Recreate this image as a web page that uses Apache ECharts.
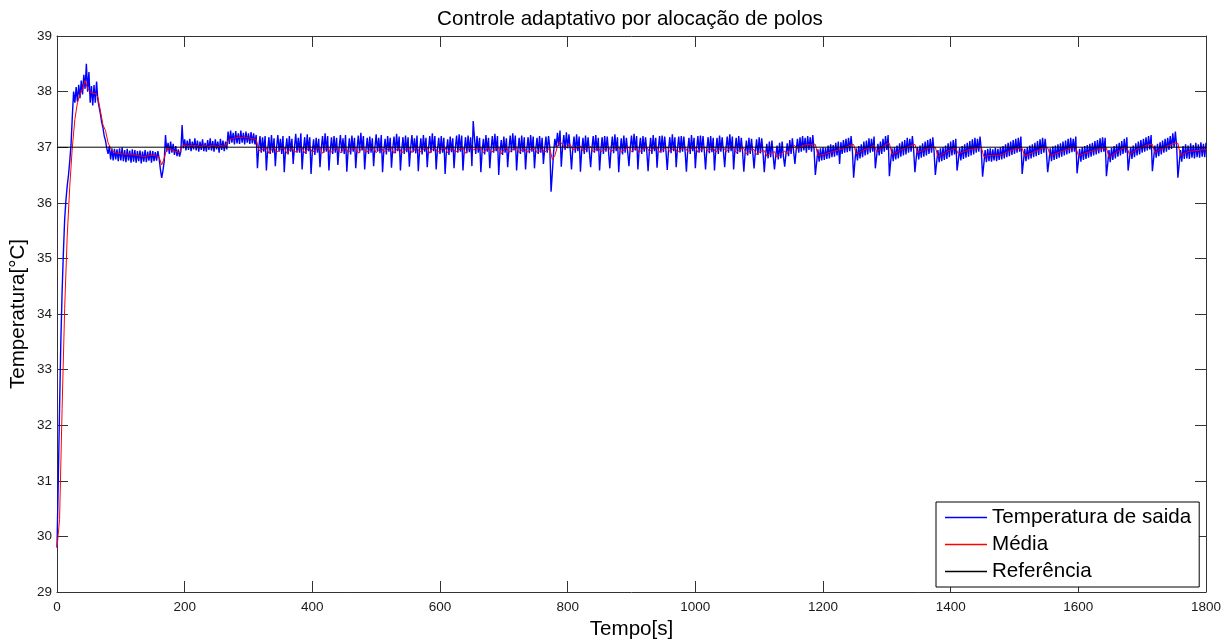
<!DOCTYPE html>
<html>
<head>
<meta charset="utf-8">
<title>Controle adaptativo por alocação de polos</title>
<script src="https://cdn.jsdelivr.net/npm/echarts@6/dist/echarts.min.js"></script>
<style>
  html, body { margin: 0; padding: 0; background: #ffffff; }
  #chart { width: 1229px; height: 640px; }
</style>
</head>
<body>
<div id="chart"></div>
<script>
// Eixos
const ticksTempo = [0, 200, 400, 600, 800, 1000, 1200, 1400, 1600, 1800];
const ticksTemperatura = [29, 30, 31, 32, 33, 34, 35, 36, 37, 38, 39];
const referencia = 37;

// Temperatura de saída, uma amostra a cada 2 s (0 a 1800 s)
const passoSaida = 2;
const temperaturaSaida = [
  // 0 s
  29.8, 31.0, 32.3, 33.5, 34.4, 35.1, 35.7, 36.05, 36.3, 36.5,
  // 20 s
  36.75, 37.05, 37.55, 38.0, 37.8, 38.08, 37.82, 38.12, 37.88, 38.2,
  // 40 s
  37.95, 38.3, 38.05, 38.5, 38.0, 38.35, 37.8, 38.1, 37.75, 38.12,
  // 60 s
  37.8, 38.18, 37.85, 37.72, 37.6, 37.45, 37.35, 37.2, 37.12, 36.98,
  // 80 s
  36.88, 37.02, 36.78, 36.98, 36.76, 36.97, 36.78, 36.96, 36.75, 36.98,
  // 100 s
  36.76, 37.0, 36.75, 36.95, 36.73, 36.97, 36.76, 36.94, 36.72, 36.96,
  // 120 s
  36.74, 36.95, 36.72, 36.93, 36.75, 36.94, 36.71, 36.92, 36.74, 36.95,
  // 140 s
  36.73, 36.92, 36.76, 36.94, 36.72, 36.93, 36.75, 36.91, 36.76, 36.93,
  // 160 s
  36.8, 36.6, 36.45, 36.58, 36.75, 37.22, 36.92, 37.08, 36.88, 37.1,
  // 180 s
  36.9, 37.06, 36.86, 37.02, 36.84, 36.96, 36.83, 36.92, 37.4, 36.98,
  // 200 s
  37.14, 36.94, 37.12, 36.95, 37.15, 36.93, 37.1, 36.96, 37.16, 36.94,
  // 220 s
  37.12, 36.92, 37.1, 36.95, 37.14, 36.93, 37.08, 36.92, 37.13, 36.95,
  // 240 s
  37.16, 36.94, 37.11, 36.92, 37.14, 36.96, 37.1, 36.9, 37.15, 36.95,
  // 260 s
  37.12, 36.93, 37.1, 36.96, 37.28, 37.06, 37.3, 37.08, 37.26, 37.05,
  // 280 s
  37.29, 37.07, 37.25, 37.06, 37.3, 37.08, 37.26, 37.05, 37.28, 37.08,
  // 300 s
  37.25, 37.06, 37.27, 37.07, 37.25, 37.05, 37.22,
  // 314 s: perturbações a cada ~14 s
  36.62, 36.98, 37.2, 36.9, 37.18, 36.92, 37.2,
  36.58, 36.95, 37.18, 36.88, 37.22, 36.9, 37.16,
  36.66, 37.0, 37.22, 36.92, 37.15, 36.88, 37.2,
  36.55, 36.94, 37.16, 36.87, 37.2, 36.92, 37.15,
  36.7, 37.0, 37.24, 36.9, 37.17, 36.9, 37.25,
  36.6, 36.95, 37.18, 36.88, 37.23, 36.93, 37.18,
  36.52, 36.92, 37.14, 36.86, 37.17, 36.9, 37.15,
  36.64, 36.98, 37.2, 36.9, 37.25, 36.92, 37.2,
  36.58, 36.94, 37.18, 36.88, 37.2, 36.9, 37.17,
  36.68, 37.0, 37.22, 36.9, 37.16, 36.88, 37.22,
  36.56, 36.93, 37.16, 36.87, 37.21, 36.92, 37.17,
  36.62, 36.97, 37.21, 36.9, 37.26, 36.94, 37.2,
  36.6, 36.95, 37.17, 36.88, 37.19, 36.9, 37.16,
  36.66, 36.99, 37.23, 36.92, 37.17, 36.89, 37.22,
  36.55, 36.94, 37.15, 36.87, 37.2, 36.92, 37.17,
  36.63, 36.98, 37.19, 36.89, 37.24, 36.93, 37.19,
  36.58, 36.95, 37.18, 36.88, 37.21, 36.91, 37.18,
  36.65, 36.99, 37.22, 36.91, 37.16, 36.89, 37.21,
  36.57, 36.94, 37.16, 36.87, 37.22, 36.92, 37.17,
  36.64, 36.98, 37.2, 36.9, 37.25, 36.93, 37.2,
  36.6, 36.96, 37.17, 36.88, 37.2, 36.9, 37.17,
  36.52, 36.92, 37.14, 36.86, 37.19, 36.91, 37.16,
  36.62, 36.98, 37.21, 36.9, 37.23, 36.92, 37.21,
  36.58, 36.95, 37.18, 36.89, 37.21, 36.91, 37.18,
  36.66, 37.47, 37.17, 36.88, 37.2, 36.9, 37.17,
  36.55, 36.93, 37.15, 36.87, 37.22, 36.92, 37.17,
  36.62, 36.97, 37.2, 36.9, 37.24, 36.93, 37.2,
  36.5, 36.92, 37.13, 36.86, 37.19, 36.9, 37.16,
  36.64, 36.98, 37.21, 36.91, 37.25, 36.94, 37.21,
  36.58, 36.95, 37.17, 36.88, 37.21, 36.91, 37.18,
  36.6, 36.96, 37.18, 36.89, 37.22, 36.92, 37.19,
  // 748 s
  36.62, 36.96, 37.17, 36.88, 37.2, 36.9, 37.17,
  36.7, 36.97, 37.19, 36.9, 37.2, 37.0,
  // 774 s: maior queda
  36.2, 36.55, 36.92, 37.15, 37.0, 37.26, 37.02, 37.3,
  36.65, 37.0, 37.22, 36.95, 37.27, 36.98, 37.23, 36.96,
  36.6, 36.97, 37.19, 36.9, 37.23, 36.93, 37.19,
  36.56, 36.94, 37.17, 36.88, 37.21, 36.91, 37.18, 36.92,
  36.64, 36.98, 37.2, 36.9, 37.22, 36.93, 37.17,
  36.58, 36.95, 37.18, 36.88, 37.2, 36.92, 37.19, 36.93,
  36.62, 36.97, 37.19, 36.89, 37.23, 36.93, 37.18,
  36.55, 36.93, 37.16, 36.87, 37.21, 36.9, 37.17, 36.92,
  36.66, 36.99, 37.21, 36.91, 37.24, 36.94, 37.2,
  36.6, 36.96, 37.17, 36.88, 37.2, 36.92, 37.18, 36.92,
  36.57, 36.94, 37.17, 36.88, 37.22, 36.93, 37.17,
  36.63, 36.98, 37.2, 36.9, 37.21, 36.91, 37.19, 36.93,
  36.59, 36.95, 37.18, 36.89, 37.23, 36.93, 37.18,
  36.64, 36.98, 37.19, 36.9, 37.2, 36.92, 37.19, 36.92,
  36.56, 36.94, 37.17, 36.88, 37.22, 36.93, 37.17,
  36.62, 36.97, 37.2, 36.9, 37.21, 36.91, 37.2, 36.94,
  36.6, 36.96, 37.18, 36.89, 37.2, 36.91, 37.17,
  36.58, 36.94, 37.17, 36.88, 37.21, 36.92, 37.18, 36.93,
  36.64, 36.98, 37.19, 36.9, 37.23, 36.93, 37.19,
  36.6, 36.95, 37.17, 36.88, 37.2, 36.91, 37.17, 36.92,
  // 1076 s
  36.56, 36.9, 37.12, 36.85, 37.17, 36.88, 37.15, 36.9,
  36.62, 36.92, 37.14, 36.86, 37.18, 36.89, 37.16, 36.91,
  36.55, 36.86, 37.06, 36.8, 37.1, 36.82, 37.12, 36.84,
  36.6, 36.84, 37.03, 36.78, 37.08, 36.8, 37.1, 36.83,
  36.65, 36.88, 37.07, 36.84, 37.13, 36.88, 37.16, 36.92,
  // 1156 s
  36.7, 36.95, 37.15, 36.9, 37.18, 36.92, 37.2, 36.94,
  37.17, 36.9, 37.2, 36.95, 37.18, 36.92, 37.22, 36.96,
  // 1188 s: perturbações mais espaçadas
  36.5, 36.72, 36.96, 36.74, 36.98, 36.76, 37.0, 36.77, 36.99, 36.79,
  37.03, 36.8, 37.05, 36.82, 37.04, 36.83, 37.08, 36.85, 37.1, 36.7,
  37.09, 36.88, 37.13, 36.9, 37.15, 36.91, 37.17, 36.93, 37.2, 36.95,
  // 1248 s
  36.45, 36.75, 36.98, 36.76, 37.02, 36.8, 37.05, 36.82, 37.1, 36.85,
  37.12, 36.87, 37.16, 36.9, 37.15, 36.92, 37.19,
  // 1282 s
  36.62, 36.84, 37.06, 36.85, 37.1, 36.88, 37.15, 36.92, 37.2, 36.95, 37.22,
  // 1304 s
  36.48, 36.74, 36.98, 36.75, 37.0, 36.78, 37.03, 36.8, 37.07, 36.83,
  37.1, 36.85, 37.13, 36.87, 37.17, 36.9, 37.15, 36.92, 37.2, 36.95,
  // 1344 s
  36.55, 36.8, 37.0, 36.78, 37.03, 36.81, 37.07, 36.83, 37.1, 36.85,
  37.13, 36.88, 37.15, 36.9, 37.18, 36.92,
  // 1376 s
  36.5, 36.72, 36.95, 36.73, 36.98, 36.75, 37.0, 36.77, 37.03, 36.79,
  37.07, 36.82, 37.1, 36.85, 37.13, 36.87, 37.15,
  // 1410 s
  36.58, 36.76, 36.99, 36.76, 37.02, 36.79, 37.05, 36.81, 37.08, 36.83,
  37.11, 36.85, 37.14, 36.87, 37.17, 36.9, 37.15, 36.92, 37.19, 36.95,
  // 1450 s
  36.47, 36.7, 36.95, 36.73, 36.97, 36.75, 36.98, 36.74, 36.96, 36.76,
  36.99, 36.75, 36.97, 36.77, 37.0, 36.78, 37.02, 36.8, 37.05, 36.82,
  37.08, 36.84, 37.1, 36.86, 37.13, 36.88, 37.15, 36.9, 37.17, 36.92, 37.19,
  // 1512 s
  36.52, 36.74, 36.97, 36.75, 37.0, 36.78, 37.03, 36.8, 37.05, 36.82,
  37.08, 36.84, 37.11, 36.86, 37.14, 36.88, 37.17, 36.9, 37.15, 36.92,
  // 1552 s
  36.55, 36.75, 36.98, 36.75, 37.01, 36.77, 37.03, 36.79, 37.05, 36.81,
  37.07, 36.83, 37.1, 36.85, 37.12, 36.87, 37.15, 36.89, 37.17, 36.91,
  37.15, 36.92, 37.19,
  // 1598 s
  36.53, 36.74, 36.97, 36.74, 37.0, 36.77, 37.02, 36.79, 37.04, 36.81,
  37.06, 36.83, 37.08, 36.85, 37.11, 36.87, 37.13, 36.89, 37.16, 36.91,
  37.18, 36.92, 37.17,
  // 1644 s
  36.48, 36.7, 36.95, 36.73, 36.99, 36.77, 37.02, 36.8, 37.05, 36.83,
  37.08, 36.85, 37.11, 36.88, 37.15, 36.9, 37.18,
  // 1678 s
  36.58, 36.78, 37.0, 36.79, 37.03, 36.82, 37.07, 36.85, 37.1, 36.87,
  37.13, 36.9, 37.15, 36.92, 37.18, 36.94, 37.2, 36.96, 37.22,
  // 1716 s
  36.57, 36.8, 37.03, 36.81, 37.06, 36.84, 37.09, 36.87, 37.12, 36.9,
  37.15, 36.92, 37.17, 36.95, 37.2, 36.97, 37.25, 37.0, 37.28, 37.02,
  // 1756 s
  36.45, 36.7, 36.95, 36.74, 37.02, 36.79, 37.05, 36.8, 37.03, 36.79,
  37.07, 36.81, 37.04, 36.8, 37.08, 36.82, 37.05, 36.81, 37.09, 36.83,
  37.06, 36.82, 37.08
];

// Média móvel da saída, uma amostra a cada 4 s (0 a 1800 s)
const passoMedia = 4;
const mediaSaida = [
  // 0 s
  29.8, 30.3, 32.3, 34.1, 35.4, 36.3, 37.0, 37.5, 37.8, 37.95,
  // 40 s
  38.05, 38.2, 38.05, 38.0, 37.97, 37.97, 37.9, 37.65, 37.4, 37.3,
  // 80 s
  37.08, 36.98, 36.92, 36.9, 36.89, 36.88, 36.88, 36.87, 36.88, 36.87,
  // 120 s
  36.86, 36.86, 36.85, 36.84, 36.83, 36.84, 36.85, 36.86, 36.85, 36.84,
  // 160 s
  36.82, 36.68, 36.8, 36.98, 36.97, 36.95, 36.93, 36.92, 36.9, 37.02,
  // 200 s
  37.04, 37.03, 37.02, 37.03, 37.02, 37.03, 37.01, 37.02, 37.03, 37.01,
  // 240 s
  37.02, 37.03, 37.02, 37.01, 37.03, 37.02, 37.02, 37.12, 37.14, 37.16,
  // 280 s
  37.17, 37.18, 37.17, 37.18, 37.17, 37.17, 37.16, 37.15, 37.14, 36.95,
  // 320 s
  36.93, 36.98, 36.99, 36.89, 36.96, 37.0, 36.91, 36.94, 36.98, 36.99,
  // 360 s
  36.89, 36.95, 36.99, 36.91, 36.93, 36.97, 36.99, 36.9, 36.96, 37.0,
  // 400 s
  36.91, 36.94, 36.98, 36.99, 36.89, 36.96, 37.0, 36.9, 36.93, 36.98,
  // 440 s
  36.99, 36.9, 36.95, 36.99, 36.91, 36.94, 36.97, 36.99, 36.89, 36.96,
  // 480 s
  37.0, 36.91, 36.93, 36.98, 36.99, 36.9, 36.95, 37.0, 36.91, 36.94,
  // 520 s
  36.98, 36.99, 36.89, 36.96, 36.99, 36.9, 36.93, 36.97, 36.99, 36.9,
  // 560 s
  36.95, 37.0, 36.91, 36.94, 36.98, 36.99, 36.89, 36.96, 37.0, 36.91,
  // 600 s
  36.93, 36.98, 36.99, 36.9, 36.95, 36.99, 36.91, 36.94, 36.97, 36.99,
  // 640 s
  36.89, 36.96, 37.0, 36.95, 36.97, 36.98, 36.99, 36.9, 36.95, 36.99,
  // 680 s
  36.91, 36.93, 36.98, 36.99, 36.88, 36.95, 37.0, 36.91, 36.94, 36.98,
  // 720 s
  36.99, 36.9, 36.95, 36.99, 36.91, 36.94, 36.97, 36.98, 36.9, 36.93,
  // 760 s
  36.97, 36.91, 36.95, 36.98, 36.78, 36.85, 37.02, 37.1, 37.05, 36.98,
  // 800 s
  37.02, 37.05, 36.95, 36.97, 37.0, 37.02, 36.93, 36.96, 36.99, 37.01,
  // 840 s
  36.92, 36.96, 36.99, 36.92, 36.95, 36.98, 37.0, 36.92, 36.96, 36.99,
  // 880 s
  37.0, 36.91, 36.95, 36.98, 37.0, 36.92, 36.96, 36.99, 36.91, 36.95,
  // 920 s
  36.98, 37.0, 36.92, 36.96, 36.99, 37.0, 36.91, 36.95, 36.98, 37.0,
  // 960 s
  36.92, 36.96, 36.99, 36.91, 36.95, 36.98, 37.0, 36.92, 36.96, 36.99,
  // 1000 s
  37.0, 36.91, 36.95, 36.98, 37.0, 36.92, 36.96, 36.99, 36.91, 36.95,
  // 1040 s
  36.98, 37.0, 36.92, 36.96, 36.99, 37.0, 36.9, 36.94, 36.97, 36.98,
  // 1080 s
  36.88, 36.92, 36.95, 36.96, 36.87, 36.91, 36.93, 36.94, 36.84, 36.88,
  // 1120 s
  36.9, 36.92, 36.82, 36.86, 36.9, 36.93, 36.88, 36.95, 37.0, 37.03,
  // 1160 s
  36.97, 37.0, 37.02, 37.04, 37.05, 37.04, 37.06, 37.05, 36.85, 36.86,
  // 1200 s
  36.87, 36.88, 36.9, 36.91, 36.92, 36.94, 36.95, 36.96, 36.98, 37.0,
  // 1240 s
  37.02, 37.04, 37.05, 36.88, 36.9, 36.93, 36.95, 36.97, 36.99, 37.01,
  // 1280 s
  37.03, 36.92, 36.95, 36.99, 37.03, 37.06, 37.07, 36.87, 36.89, 36.91,
  // 1320 s
  36.94, 36.96, 36.98, 37.0, 37.02, 37.04, 37.05, 36.9, 36.92, 36.94,
  // 1360 s
  36.96, 36.98, 36.99, 37.0, 37.0, 36.83, 36.85, 36.88, 36.9, 36.93,
  // 1400 s
  36.95, 36.97, 36.98, 36.88, 36.9, 36.92, 36.93, 36.95, 36.96, 36.97,
  // 1440 s
  36.98, 36.99, 37.0, 36.83, 36.84, 36.85, 36.85, 36.86, 36.85, 36.86,
  // 1480 s
  36.87, 36.89, 36.91, 36.93, 36.95, 36.96, 36.97, 36.98, 36.98, 36.84,
  // 1520 s
  36.86, 36.88, 36.9, 36.92, 36.94, 36.96, 36.98, 36.99, 36.99, 36.85,
  // 1560 s
  36.87, 36.88, 36.9, 36.92, 36.93, 36.95, 36.96, 36.98, 36.99, 37.0,
  // 1600 s
  36.85, 36.86, 36.88, 36.9, 36.91, 36.93, 36.94, 36.95, 36.96, 36.97,
  // 1640 s
  36.98, 36.99, 36.82, 36.85, 36.88, 36.91, 36.94, 36.97, 36.99, 37.0,
  // 1680 s
  36.87, 36.9, 36.93, 36.96, 36.98, 37.0, 37.02, 37.04, 37.05, 37.05,
  // 1720 s
  36.9, 36.93, 36.96, 36.98, 37.0, 37.02, 37.04, 37.06, 37.07, 37.07,
  // 1760 s
  36.85, 36.88, 36.9, 36.92, 36.93, 36.93, 36.94, 36.94, 36.95, 36.95,
  // 1800 s
  36.96
];

const nomesSeries = ['Temperatura de saida', 'Média', 'Referência'];
const coresSeries = ['#0000ff', '#ff0000', '#000000'];
const largurasSeries = [1.4, 1, 1];

const tempoMin = ticksTempo[0];
const tempoMax = ticksTempo[ticksTempo.length - 1];
const tempoIntervalo = ticksTempo[1] - ticksTempo[0];
const tempMin = ticksTemperatura[0];
const tempMax = ticksTemperatura[ticksTemperatura.length - 1];
const tempIntervalo = ticksTemperatura[1] - ticksTemperatura[0];

const dadosSaida = temperaturaSaida.map((v, i) => [i * passoSaida, v]);
const dadosMedia = mediaSaida.map((v, i) => [i * passoMedia, v]);
const dadosReferencia = [[tempoMin, referencia], [tempoMax, referencia]];

const fonte = "'Liberation Sans', Arial, Helvetica, sans-serif";
const corEixo = '#333333';
const corRotulo = '#1a1a1a';

function eixoX(posicao, comRotulos) {
  return {
    type: 'value', position: posicao,
    min: tempoMin, max: tempoMax, interval: tempoIntervalo,
    axisLine: { show: true, onZero: false, lineStyle: { color: corEixo, width: 1 } },
    axisTick: { show: true, inside: true, length: 11, lineStyle: { color: corEixo } },
    axisLabel: {
      show: comRotulos, color: corRotulo, fontFamily: fonte, fontSize: 13.5, margin: 8,
      formatter: (v) => String(v)
    },
    splitLine: { show: false }
  };
}
function eixoY(posicao, comRotulos) {
  return {
    type: 'value', position: posicao,
    min: tempMin, max: tempMax, interval: tempIntervalo,
    axisLine: { show: true, onZero: false, lineStyle: { color: corEixo, width: 1 } },
    axisTick: { show: true, inside: true, length: 11, lineStyle: { color: corEixo } },
    axisLabel: {
      show: comRotulos, color: corRotulo, fontFamily: fonte, fontSize: 13.5, margin: 5,
      formatter: (v) => String(v)
    },
    splitLine: { show: false }
  };
}

const xPrincipal = eixoX('bottom', true);
xPrincipal.name = 'Tempo[s]';
xPrincipal.nameLocation = 'middle';
xPrincipal.nameGap = 23;
xPrincipal.nameTextStyle = { color: '#000', fontFamily: fonte, fontSize: 20.6 };

const yPrincipal = eixoY('left', true);
yPrincipal.name = 'Temperatura[°C]';
yPrincipal.nameLocation = 'middle';
yPrincipal.nameGap = 28;
yPrincipal.nameMoveOverlap = false;
yPrincipal.nameTextStyle = { color: '#000', fontFamily: fonte, fontSize: 20.6 };

const chart = echarts.init(document.getElementById('chart'), null, { renderer: 'canvas' });

function serieLinha(indice, dados, z) {
  const cor = coresSeries[indice];
  return {
    name: nomesSeries[indice], type: 'line', data: dados,
    xAxisIndex: 0, yAxisIndex: 0,
    symbol: 'none', showSymbol: false, smooth: false,
    color: cor,
    lineStyle: { color: cor, width: largurasSeries[indice] },
    itemStyle: { color: cor },
    emphasis: { disabled: true },
    z: z
  };
}

chart.setOption({
  animation: false,
  backgroundColor: '#ffffff',
  title: {
    text: 'Controle adaptativo por alocação de polos',
    left: 625, textAlign: 'center', top: 4,
    textStyle: { color: '#000', fontFamily: fonte, fontSize: 20.6, fontWeight: 'normal' }
  },
  grid: {
    left: 57, right: 23, top: 36, bottom: 48,
    containLabel: false, outerBoundsMode: 'none'
  },
  xAxis: [xPrincipal, eixoX('top', false)],
  yAxis: [yPrincipal, eixoY('right', false)],
  legend: {
    orient: 'vertical',
    left: 936, top: 502,
    data: nomesSeries.map((nome, i) => ({
      name: nome,
      icon: 'rect',
      itemStyle: { color: coresSeries[i], borderWidth: 0, opacity: 1 }
    })),
    itemWidth: 42, itemHeight: 1.5,
    itemGap: 0,
    padding: [2, 8, 2, 9],
    borderColor: '#000', borderWidth: 1,
    backgroundColor: '#ffffff',
    textStyle: { color: '#000', fontFamily: fonte, fontSize: 20.6, lineHeight: 27 },
    selectedMode: false
  },
  series: [
    serieLinha(0, dadosSaida, 2),
    serieLinha(1, dadosMedia, 3),
    serieLinha(2, dadosReferencia, 4)
  ]
});
</script>
</body>
</html>
